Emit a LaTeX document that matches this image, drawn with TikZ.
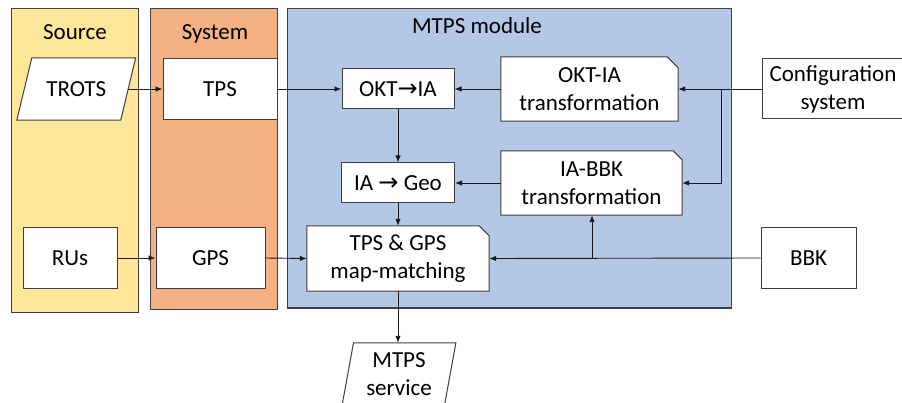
\documentclass[tikz,border=0pt]{standalone}
\usepackage{fontspec}
\setmainfont{Carlito}
\newfontfamily\arrowfont{DejaVu Sans}
\newcommand{\rarr}{{\arrowfont\fontsize{24}{28}\selectfont →}}
\usetikzlibrary{arrows.meta}
\pgfdeclarelayer{panel}
\pgfdeclarelayer{shape}
\pgfsetlayers{panel,shape,main}
\definecolor{srcfill}{HTML}{FFE699}
\definecolor{sysfill}{HTML}{F4B183}
\definecolor{modfill}{HTML}{B4C7E7}
\definecolor{edge}{HTML}{3F3F3F}
\definecolor{ink}{HTML}{1A1A1A}

\begin{document}
\begin{tikzpicture}[x=1pt,y=-1pt,
  font=\fontsize{23}{28}\selectfont,
  panel/.style={draw=edge, line width=1pt},
  box/.style={draw=edge, fill=white, line width=1pt, inner sep=0pt, align=center},
  bare/.style={inner sep=0pt, align=center},
  outline/.style={draw=edge, fill=white, line width=1pt},
  arr/.style={-{Latex[length=7pt,width=5.5pt]}, line width=0.9pt, draw=ink},
  wire/.style={line width=0.9pt, draw=ink}]

\useasboundingbox (0,0) rectangle (902,403);

% ---- background panels ----
\begin{pgfonlayer}{panel}
  \draw[panel, fill=srcfill] (11,9) rectangle (138,312);
  \draw[panel, fill=sysfill] (150,9) rectangle (277,309);
  \draw[panel, fill=modfill] (287,9) rectangle (731,308);
\end{pgfonlayer}

\node[anchor=base] (srctitle) at (75,40) {Source};
\node[anchor=base] (systitle) at (215,40) {System};
\node[anchor=base] (modtitle) at (477,34) {MTPS module};

% ---- plain boxes ----
\node[box, minimum width=114pt, minimum height=61pt] (tps) at (220,89) {TPS};
\node[box, minimum width=109pt, minimum height=61pt] (gps) at (210.5,258) {GPS};
\node[box, minimum width=94pt, minimum height=61pt] (rus) at (70,258) {RUs};
\node[box, minimum width=112pt, minimum height=40pt] (okt) at (398,89) {OKT\rarr IA};
\node[box, minimum width=113pt, minimum height=40pt] (geo) at (398,183) {IA \rarr\ Geo};
\node[box, minimum width=95pt, minimum height=61pt] (bbk) at (808.5,258) {BBK};
\node[box, minimum width=142pt, minimum height=60pt] (conf) at (833,89) {Configuration\\system};

% ---- boxes with a clipped corner ----
\node[bare, minimum width=177pt, minimum height=64pt] (okttr) at (589.5,89) {OKT-IA\\transformation};
\node[bare, minimum width=181pt, minimum height=64pt] (iabbk) at (591.5,183) {IA-BBK\\transformation};
\node[bare, minimum width=182pt, minimum height=65pt] (mm) at (398,258.5) {TPS \& GPS\\map-matching};

% ---- data (parallelogram) nodes ----
\node[bare, minimum width=103.5pt, minimum height=62pt] (trots) at (76.25,89) {TROTS};
\node[bare, minimum width=102pt, minimum height=62pt] (svc) at (399,374) {MTPS\\service};

\begin{pgfonlayer}{shape}
  \foreach \n/\c in {okttr/11pt, iabbk/9pt, mm/10pt}{
    \draw[outline] (\n.south west) -- (\n.north west) -- ([xshift=-\c]\n.north east)
      -- ([yshift=-\c]\n.north east) -- (\n.south east) -- cycle;
  }
  \draw[outline] ([xshift=7.5pt]trots.north west) -- ([xshift=7.5pt]trots.north east)
    -- ([xshift=-7.5pt]trots.south east) -- ([xshift=-7.5pt]trots.south west) -- cycle;
  \draw[outline] ([xshift=5.7pt]svc.north west) -- ([xshift=5.7pt]svc.north east)
    -- ([xshift=-5.7pt]svc.south east) -- ([xshift=-5.7pt]svc.south west) -- cycle;
\end{pgfonlayer}

% ---- connectors ----
\draw[arr] (trots.east) -- (trots.east -| tps.west);
\draw[arr] (tps.east) -- (okt.west);
\draw[arr] (okttr.west) -- (okt.east);
\draw[arr] (conf.west) -- (okttr.east);
\coordinate (confsplit) at (721,89);
\draw[arr] (confsplit) |- (iabbk.east);
\draw[arr] (iabbk.west) -- (geo.east);
\draw[arr] (okt.south) -- (geo.north);
\draw[arr] (geo.south) -- (mm.north);
\draw[arr] (rus.east) -- (gps.west);
\draw[arr] (gps.east) -- (mm.west);
\draw[arr] (bbk.west) -- (mm.east);
\coordinate (bbksplit) at (592,258);
\draw[arr] (bbksplit) -- (bbksplit |- iabbk.south);
\draw[arr] (mm.south) -- (mm.south |- svc.north);

\end{tikzpicture}
\end{document}
